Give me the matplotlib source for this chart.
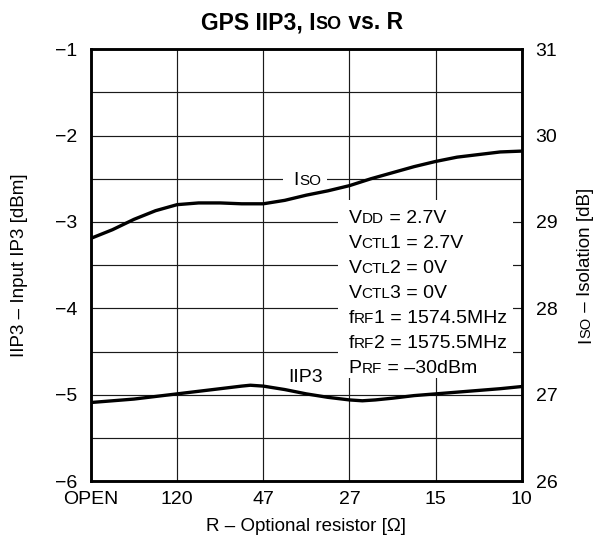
import numpy as np
import matplotlib
matplotlib.use('Agg')
import matplotlib.pyplot as plt
from matplotlib.patches import Rectangle
from matplotlib.transforms import offset_copy

plt.rcParams['font.family'] = ['Liberation Sans', 'DejaVu Sans']

# data
r_labels = ['OPEN', '120', '47', '27', '15', '10']

iip3_x = [0, 0.25, 0.5, 0.75, 1, 1.25, 1.5, 1.75, 1.85, 2, 2.25, 2.5, 2.75,
          3, 3.15, 3.3, 3.5, 3.75, 4, 4.25, 4.5, 4.75, 5]
iip3 = [-5.09, -5.07, -5.05, -5.02, -4.99, -4.96, -4.93, -4.90, -4.89, -4.90,
        -4.94, -4.99, -5.03, -5.06, -5.07, -5.06, -5.04, -5.01, -4.99, -4.97,
        -4.95, -4.93, -4.905]

iso_x = [0, 0.25, 0.5, 0.75, 1, 1.25, 1.5, 1.75, 2, 2.25, 2.5, 2.75, 3,
         3.25, 3.5, 3.75, 4, 4.25, 4.5, 4.75, 5]
iso = [28.81, 28.91, 29.03, 29.13, 29.20, 29.22, 29.22, 29.21, 29.21, 29.25,
       29.31, 29.36, 29.42, 29.50, 29.57, 29.64, 29.70, 29.75, 29.78, 29.81,
       29.82]

cond_lines = [
    [('V', 14), ('DD', 11), (' = 2.7V', 14)],
    [('V', 14), ('CTL', 11), ('1 = 2.7V', 14)],
    [('V', 14), ('CTL', 11), ('2 = 0V', 14)],
    [('V', 14), ('CTL', 11), ('3 = 0V', 14)],
    [('f', 14), ('RF', 11), ('1 = 1574.5MHz', 14)],
    [('f', 14), ('RF', 11), ('2 = 1575.5MHz', 14)],
    [('P', 14), ('RF', 11), (' = \u201330dBm', 14)],
]

fig = plt.figure(figsize=(6.06, 5.4), dpi=100)
ax = fig.add_axes([0.150, 0.109, 0.711, 0.800])
ax2 = ax.twinx()
renderer = fig.canvas.get_renderer()


def adv(s, size, weight):
    # advance width of a string, spaces included
    t = fig.text(0, 0, '|' + s + '|', fontsize=size, weight=weight)
    w1 = t.get_window_extent(renderer).width
    t.set_text('||')
    w2 = t.get_window_extent(renderer).width
    t.remove()
    return w1 - w2


def sc_text(x, y, parts, tr, rot=0, ha='left', weight='normal'):
    widths = [adv(s, sz, weight) for s, sz in parts]
    start = 0 if ha == 'left' else -sum(widths) / 2
    for (s, sz), w in zip(parts, widths):
        if rot:
            off = offset_copy(tr, fig=fig, x=0, y=start, units='dots')
        else:
            off = offset_copy(tr, fig=fig, x=start, y=0, units='dots')
        fig.text(x, y, s, transform=off, fontsize=sz, weight=weight,
                 rotation=rot, rotation_mode='anchor', ha='left',
                 va='baseline')
        start += w


ax.set_xlim(0, 5)
ax.set_ylim(-6, -1)
ax2.set_ylim(26, 31)
ax.set_xticks(range(len(r_labels)))
ax.set_xticklabels(r_labels)
ax.set_yticks(np.arange(-6, -0.5, 1))
ax.set_yticks(np.arange(-5.5, -1, 1), minor=True)
ax2.set_yticks(np.arange(26, 31.5, 1))
ax.set_axisbelow(True)
ax.grid(True, which='both', color='#1a1a1a', lw=0.85)
ax.tick_params(which='both', length=0, labelsize=14)
ax.tick_params(axis='y', pad=10)
ax.tick_params(axis='x', pad=7)
ax2.tick_params(length=0, labelsize=14, pad=10)
for a in (ax, ax2):
    for sp in a.spines.values():
        sp.set_linewidth(1.8)

# white blocks behind the test conditions and the Iso label
ax.add_patch(Rectangle((2.87, -4.81), 2.03, 2.06, facecolor='white',
                       edgecolor='none', zorder=1))
ax.add_patch(Rectangle((2.23, -2.59), 0.51, 0.18, facecolor='white',
                       edgecolor='none', zorder=1))

ax.plot(iip3_x, iip3, color='black', lw=2.4, zorder=3,
        solid_joinstyle='round', solid_capstyle='round')
ax2.plot(iso_x, iso, color='black', lw=2.4, zorder=3,
         solid_joinstyle='round', solid_capstyle='round')

ax.set_xlabel('R \u2013 Optional resistor [\u03a9]', fontsize=13.5, labelpad=7)
ax.set_ylabel('IIP3 \u2013 Input IP3 [dBm]', fontsize=13.5)
ax.yaxis.set_label_coords(-0.146, 0.5)

# conditions text
for k, parts in enumerate(cond_lines):
    sc_text(2.99, -3.01 - 0.29 * k, parts, ax.transData)

# curve labels
sc_text(2.51, -2.574, [('I', 14), ('SO', 11)], ax.transData, ha='center')
sc_text(2.49, -4.85, [('IIP3', 14)], ax.transData, ha='center')

# title and right axis label
sc_text(0.498, 0.946, [('GPS IIP3, I', 16.5), ('SO', 13), (' vs. R', 16.5)],
        fig.transFigure, ha='center', weight='bold')
sc_text(0.974, 0.509, [('I', 13.5), ('SO', 10.5), (' \u2013 Isolation [dB]', 13.5)],
        fig.transFigure, rot=90, ha='center')

fig.savefig('out.png', dpi=100)
